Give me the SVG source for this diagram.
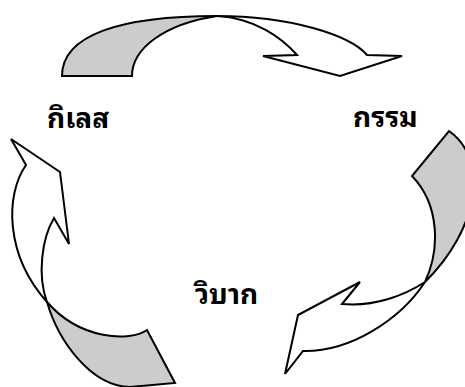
<svg xmlns="http://www.w3.org/2000/svg" width="465" height="387" viewBox="0 0 465 387">
<style>
.lbl{font-family:"Noto Sans Thai Looped","Noto Serif Thai","Noto Sans Thai","Noto Sans",sans-serif;font-size:28px;font-weight:bold;fill:#000}
.w{fill:#fff;stroke:#000;stroke-width:2;stroke-linejoin:miter}
.g{fill:#cccccc;stroke:#000;stroke-width:2;stroke-linejoin:miter}
</style>
<rect width="465" height="387" fill="#fff"/>
<g id="connectors">
  <g id="arrow-kilesa-kamma">
    <path class="w" d="M217,16 C290,16 350,35 367,55 L402,56 L340,76 L263,56 L297,55 C282,38 255,18 217,16 Z"/>
    <path class="g" d="M62,76 C62,35 120,16 217,16 C165,24 132,48 132,76 Z"/>
  </g>
  <g id="arrow-kamma-vipaka">
    <path class="g" d="M449,131 C490,160 478,230 425,282 C440,250 440,205 412,176 Z"/>
    <path class="w" d="M425,282 C405,295 375,307 342,304 L360,282 L298,315 L285,374 L303,351 C350,352 400,320 425,282 Z"/>
  </g>
  <g id="arrow-vipaka-kilesa">
    <path class="w" d="M47,302 C37,275 42,238 54,218 L69,244 L60,172 L11,139 L26,165 C5,195 5,255 47,302 Z"/>
    <path class="g" d="M47,302 C58,340 90,386 130,387 L175,383 L147,330 C130,342 80,340 47,302 Z"/>
  </g>
</g>
<g id="node-kilesa"><text class="lbl" x="47" y="128">กิเลส</text></g>
<g id="node-kamma"><text class="lbl" x="353" y="127">กรรม</text></g>
<g id="node-vipaka"><text class="lbl" x="195" y="304">วิบาก</text></g>
</svg>
